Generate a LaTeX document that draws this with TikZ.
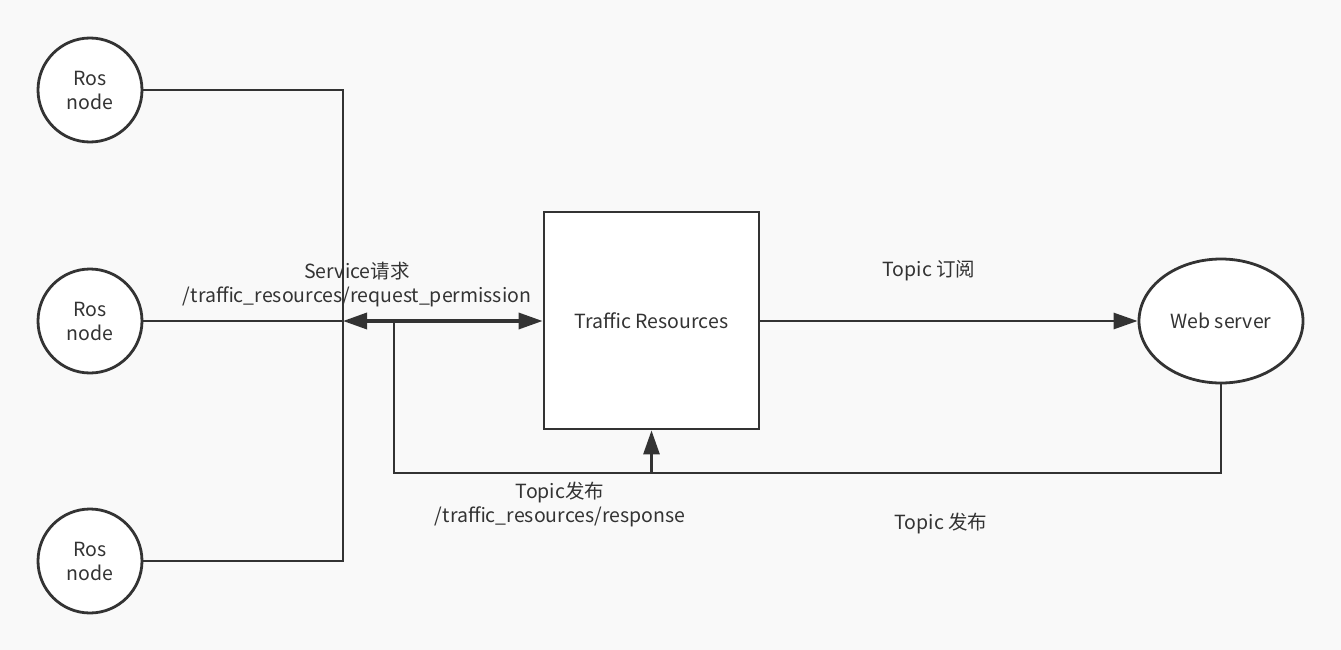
\documentclass[tikz,border=0pt]{standalone}
\usepackage{fontspec}
\setmainfont{Noto Sans CJK SC}
\usetikzlibrary{arrows.meta,shapes.geometric}
\definecolor{bg}{RGB}{249,249,249}
\definecolor{ink}{RGB}{51,51,51}
\tikzset{
  txt/.style={font=\fontsize{19.5}{24}\selectfont,text=ink},
  ros/.style={txt,circle,draw=ink,line width=2.8pt,fill=white,minimum size=104pt,inner sep=0pt,align=center},
  boxnode/.style={txt,rectangle,draw=ink,line width=2.8pt,fill=white,minimum width=215pt,minimum height=217pt,inner sep=0pt},
  ellnode/.style={txt,ellipse,draw=ink,line width=2.8pt,fill=white,minimum width=164pt,minimum height=124pt,inner sep=0pt},
  conn/.style={draw=ink,line width=2.8pt},
  tip/.style={-{Triangle[length=24pt,width=16pt]}},
  lbl/.style={txt,align=center,inner sep=0pt}
}
\begin{document}
\begin{tikzpicture}[x=1pt,y=-1pt]
\fill[bg] (0,0) rectangle (1341,650);
\useasboundingbox (0,0) rectangle (1341,650);
% nodes
\node[ros] (r1) at (90,90) {Ros\\node};
\node[ros] (r2) at (90,321) {Ros\\node};
\node[ros] (r3) at (90,561) {Ros\\node};
\node[boxnode] (tr) at (651.5,320.5) {Traffic Resources};
\node[ellnode] (ws) at (1221,321) {Web server};
% coordinates
\coordinate (v1) at (343,90);
\coordinate (v3) at (343,561);
\coordinate (j) at (343,321);
\coordinate (b1) at (394,321);
\coordinate (b2) at (394,473);
\coordinate (b3) at (1221,473);
\coordinate (fb) at (651.5,473);
\coordinate (te) at (759,321);
% connectors
\draw[conn] (r1.east) -- (v1) -- (v3) -- (r3.east);
\draw[conn] (r2.east) -- (j);
\draw[conn,line width=3.4pt,{Triangle[length=24pt,width=16pt]}-{Triangle[length=24pt,width=16pt]}] (j) -- (j -| tr.west);
\draw[conn] (ws.south) -- (b3) -- (b2) -- (b1);
\draw[conn,tip] (fb) -- (tr.south);
\draw[conn,tip] (te) -- (te -| ws.west);
% labels
\node[lbl] (l1) at (357,285) {Service请求\\/traffic\_resources/request\_permission};
\node[lbl] (l2) at (929,271) {Topic 订阅};
\node[lbl] (l3) at (560,504) {Topic发布\\/traffic\_resources/response};
\node[lbl] (l4) at (941,523) {Topic 发布};
\end{tikzpicture}
\end{document}
